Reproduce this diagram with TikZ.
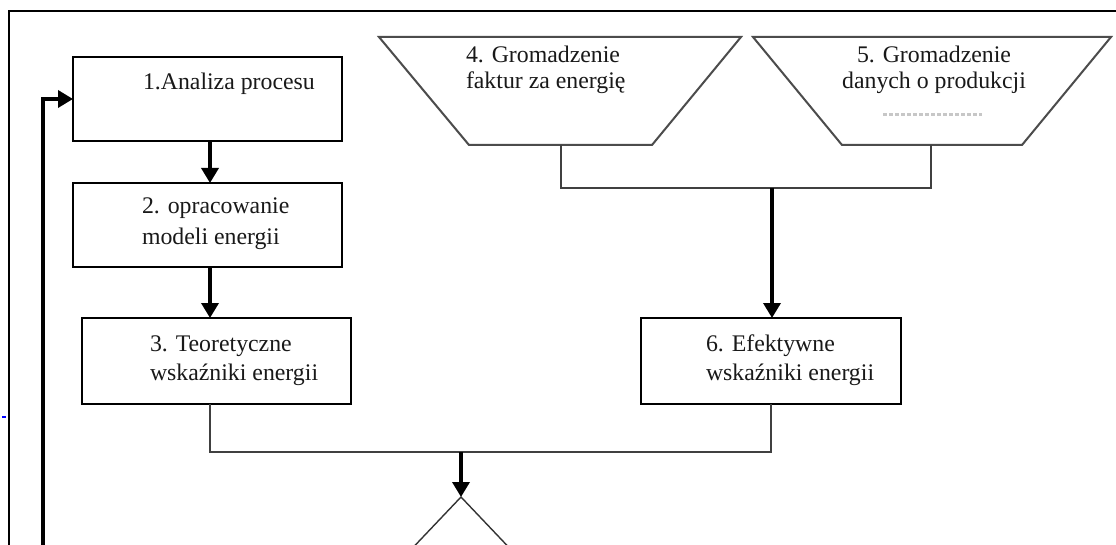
\documentclass[tikz,border=0pt]{standalone}
\usepackage{fontspec}
\setmainfont{Liberation Serif}
\usetikzlibrary{arrows.meta,shapes.geometric,calc}

\begin{document}
\begin{tikzpicture}[x=1pt,y=-1pt,
  every node/.style={inner sep=0pt,outer sep=0pt},
  stepbox/.style={draw=black,line width=2pt,rectangle,minimum width=269pt,minimum height=84pt},
  lbl/.style={anchor=base west,font=\fontsize{23.8}{28}\selectfont,text=black!90},
  lblc/.style={lbl,anchor=base},
  trap/.style={draw=black!70,line width=2pt,line join=miter},
  conn/.style={draw=black!75,line width=1.4pt},
  flow/.style={draw=black,line width=3.5pt,-{Triangle[width=17pt,length=15pt]}},
  frame/.style={draw=black,line width=1.5pt}]

% canvas
\fill[white] (0,0) rectangle (1116,545);
\useasboundingbox (0,0) rectangle (1116,545);
\clip (0,0) rectangle (1116,545);

% outer frame
\draw[frame] (9,560) -- (9,11) -- (1120,11);
\draw[blue,line width=1.5pt] (2,417) -- (6,417);

% shared vertical axis of the left column
\coordinate (spine) at (210,0);

% process boxes
\node[stepbox] (box1) at (207.5,99) {};
\node[stepbox] (box2) at (207.5,225) {};
\node[stepbox,minimum height=86pt] (box3) at (216.5,361) {};
\node[stepbox,minimum width=260pt,minimum height=86pt] (box6) at (771,361) {};

\node[lbl] (t1) at (143,90) {1.Analiza procesu};
\node[lbl] (t2a) at (142,214) {2. opracowanie};
\node[lbl] (t2b) at (142,245) {modeli energii};
\node[lbl] (t3a) at (150,351) {3. Teoretyczne};
\node[lbl] (t3b) at (150,380) {wskaźniki energii};
\node[lbl] (t6a) at (706,351) {6. Efektywne};
\node[lbl] (t6b) at (706,380) {wskaźniki energii};

% data-collection trapezoids
\draw[trap] (379,37) -- (741,37) -- (652,145) -- (469,145) -- cycle;
\draw[trap] (753,37) -- (1111,37) -- (1022,145) -- (842,145) -- cycle;
\coordinate (b4) at (561,145);
\coordinate (b5) at (931,145);

\node[lbl] (t4a) at (466,63) {4. Gromadzenie};
\node[lbl] (t4b) at (466,89) {faktur za energię};
\node[lblc] (t5a) at (934,63) {5. Gromadzenie};
\node[lblc] (t5b) at (934,89) {danych o produkcji};
\draw[black!22,line width=3pt,dash pattern=on 4pt off 2pt] (883,115) -- (982,115);

% decision
\node[draw=black!80,line width=1.4pt,diamond,aspect=1,minimum width=190pt,minimum height=200pt] (dec) at (461,597) {};

% junction points
\coordinate (j1) at (772,188);
\coordinate (j2) at (461,452);

% connectors
\draw[flow] (box1.south -| spine) -- (box2.north -| spine);
\draw[flow] (box2.south -| spine) -- (box3.north -| spine);
\draw[conn] (b4) |- (j1) -| (b5);
\draw[flow] (j1) -- (box6.north -| j1);
\draw[conn] (box3.south -| spine) |- (j2) -| (box6.south);
\draw[flow] (j2) -- (dec.north);

% feedback loop
\coordinate (fb) at (43,560);
\draw[flow] (fb) |- (box1.west);
\end{tikzpicture}
\end{document}
